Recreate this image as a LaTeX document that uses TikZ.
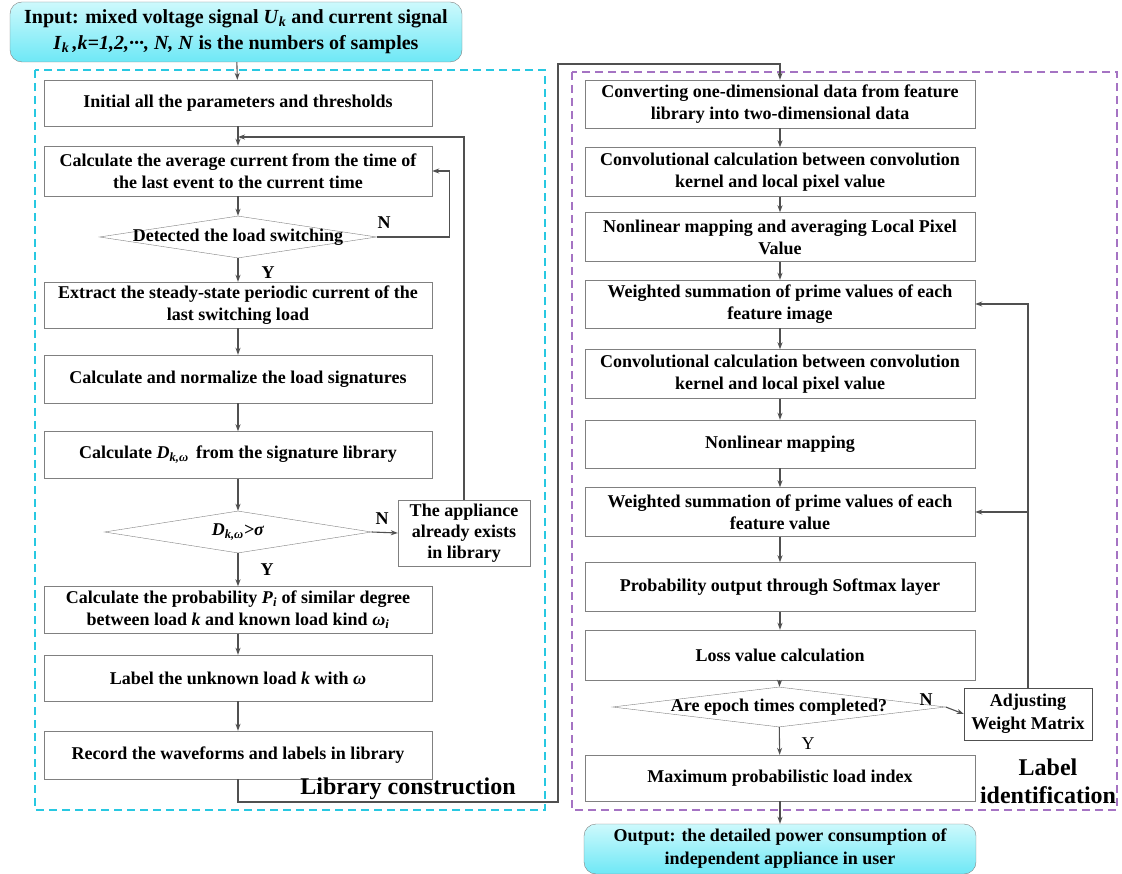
\documentclass[tikz,border=0pt]{standalone}
\usepackage{fontspec}
\setmainfont{Liberation Serif}
\usetikzlibrary{shapes.geometric,arrows.meta}
\definecolor{libcyan}{RGB}{40,200,225}
\definecolor{idpurple}{RGB}{165,115,195}
\definecolor{termtop}{RGB}{205,249,252}
\definecolor{termbot}{RGB}{110,232,246}
\definecolor{linegray}{RGB}{80,80,80}
\tikzset{x=1pt, y=-1pt,
    >={Stealth[length=7pt,width=5pt]},
    boxfont/.style={font=\fontsize{18}{22}\selectfont\bfseries},
    procbox/.style={draw=gray, fill=white, boxfont, align=center,
        inner sep=1pt, minimum width=388pt, minimum height=48pt},
    decision/.style={diamond, draw=gray, fill=white, inner sep=0pt},
    termbox/.style={draw=gray, rounded corners=12pt, top color=termtop,
        bottom color=termbot, align=center, inner sep=0pt},
    flow/.style={draw=linegray, line width=1.1pt},
    yn/.style={font=\fontsize{18}{22}\selectfont\bfseries, inner sep=0pt},
    areatitle/.style={font=\fontsize{24}{28}\selectfont\bfseries, align=center, inner sep=0pt},
    }

\begin{document}
\begin{tikzpicture}
	\useasboundingbox (0,0) rectangle (1122,874);
	% dashed areas
	\draw[libcyan, line width=1.4pt, dash pattern=on 8pt off 5pt] (35,70) rectangle (545,810);
	\draw[idpurple, line width=1.2pt, dash pattern=on 8pt off 5pt] (572,72) rectangle (1117,810);

	\node[termbox, minimum width=452pt, minimum height=60pt,
		font=\fontsize{20}{26}\selectfont\bfseries] (input) at (236,32)
		{Input: mixed voltage signal \textit{U}\textsubscript{\textit{k}} and current signal\\
		\textit{I}\textsubscript{\textit{k}}\,\textit{,k=1,2,···, N, N} is the numbers of samples};

	% library construction
	\node[procbox, minimum height=46pt] (initPar) at (238,103) {Initial all the parameters and thresholds};
	\node[procbox, minimum height=50pt] (avgCur) at (238,171)
		{Calculate the average current from the time of\\ the last event to the current time};
	\node[decision, minimum width=277pt, minimum height=42pt,
		label={[boxfont]center:Detected the load switching}] (detSwitch) at (238,237) {};
	\node[procbox, minimum height=46pt] (extCur) at (238,305)
		{Extract the steady-state periodic current of the\\ last switching load};
	\node[procbox] (normSig) at (238,379) {Calculate and normalize the load signatures};
	\node[procbox, minimum height=47pt] (calcD) at (238,455)
		{Calculate \textit{D}\textsubscript{\textit{k,ω}}\, from the signature library};
	\node[decision, minimum width=267pt, minimum height=42pt,
		label={[boxfont]center:\textit{D}\textsubscript{\textit{k,ω}}\textit{>σ}}] (chkD) at (238,532) {};
	\node[procbox, minimum width=132pt, minimum height=66pt,
		font=\fontsize{18}{21}\selectfont\bfseries] (existLib) at (464,533)
		{The appliance\\ already exists\\ in library};
	\node[procbox, minimum height=47pt] (calcProb) at (238,610)
		{Calculate the probability \textit{P}\textsubscript{\textit{i}} of similar degree\\
		between load \textit{k} and known load kind \textit{ω}\textsubscript{\textit{i}}};
	\node[procbox, minimum height=46pt] (labelLoad) at (238,678) {Label the unknown load \textit{k} with \textit{ω}};
	\node[procbox] (recWave) at (238,755) {Record the waveforms and labels in library};
	\node[areatitle] (libTitle) at (408,789) {Library construction};

	% label identification
	\node[procbox, minimum width=390pt] (convData) at (780,104)
		{Converting one-dimensional data from feature\\ library into two-dimensional data};
	\node[procbox, minimum width=390pt, minimum height=49pt] (conv1) at (780,172)
		{Convolutional calculation between convolution\\ kernel and local pixel value};
	\node[procbox, minimum width=390pt, minimum height=49pt] (nonlin1) at (780,237)
		{Nonlinear mapping and averaging Local Pixel\\ Value};
	\node[procbox, minimum width=390pt] (wsum1) at (780,304)
		{Weighted summation of prime values of each\\ feature image};
	\node[procbox, minimum width=390pt, minimum height=49pt] (conv2) at (780,374)
		{Convolutional calculation between convolution\\ kernel and local pixel value};
	\node[procbox, minimum width=390pt] (nonlin2) at (780,444) {Nonlinear mapping};
	\node[procbox, minimum width=390pt, minimum height=49pt] (wsum2) at (780,512)
		{Weighted summation of prime values of each\\ feature value};
	\node[procbox, minimum width=390pt, minimum height=49pt] (softOut) at (780,587)
		{Probability output through Softmax layer};
	\node[procbox, minimum width=390pt, minimum height=50pt] (lossVal) at (780,655) {Loss value calculation};
	\node[decision, minimum width=333pt, minimum height=40pt,
		label={[boxfont]center:Are epoch times completed?}] (epochChk) at (779,707) {};
	\node[procbox, minimum width=128pt, minimum height=52pt, draw=linegray,
		font=\fontsize{18}{23}\selectfont\bfseries] (adjW) at (1028,714)
		{Adjusting\\ Weight Matrix};
	\node[procbox, minimum width=390pt, minimum height=46pt] (maxProb) at (780,778)
		{Maximum probabilistic load index};
	\node[areatitle] (idTitle) at (1048,781) {Label\\ identification};

	\node[termbox, minimum width=392pt, minimum height=50pt,
		font=\fontsize{18}{23}\selectfont\bfseries] (output) at (780,849)
		{Output: the detailed power consumption of\\ independent appliance in user};

	% connectors
	\coordinate (joinA) at (238,137);
	\coordinate (turnA) at (558,802);
	\coordinate (turnB) at (558,64);
	\draw[flow,->] (input) -- (initPar);
	\foreach \a/\b in {initPar/avgCur, avgCur/detSwitch, detSwitch/extCur, extCur/normSig,
		normSig/calcD, calcD/chkD, chkD/calcProb, calcProb/labelLoad, labelLoad/recWave}
		\draw[flow,->] (\a) -- (\b);
	\draw[flow,->] (detSwitch.east) -- ++(73,0) |- (avgCur.east);
	\draw[flow,->] (chkD.east) -- (existLib.west);
	\draw[flow,->] (existLib.north) |- (joinA);
	\draw[flow,->] (recWave.south) |- (turnA) -- (turnB) -| (convData.north);
	\foreach \a/\b in {convData/conv1, conv1/nonlin1, nonlin1/wsum1, wsum1/conv2, conv2/nonlin2,
		nonlin2/wsum2, wsum2/softOut, softOut/lossVal, lossVal/epochChk, epochChk/maxProb, maxProb/output}
		\draw[flow,->] (\a) -- (\b);
	\draw[flow,->] (epochChk.east) -- (adjW.west);
	\draw[flow,->] (adjW.north) |- (wsum1.east);
	\draw[flow,->] (adjW.north |- wsum2.east) -- (wsum2.east);

	% branch labels
	\node[yn] (nDet) at (384,223) {N};
	\node[yn] (yDet) at (268,273) {Y};
	\node[yn] (nChk) at (382,519) {N};
	\node[yn] (yChk) at (267,570) {Y};
	\node[yn] (nEpoch) at (926,700) {N};
	\node[yn, font=\fontsize{18}{22}\selectfont] (yEpoch) at (808,744) {Y};
\end{tikzpicture}
\end{document}
